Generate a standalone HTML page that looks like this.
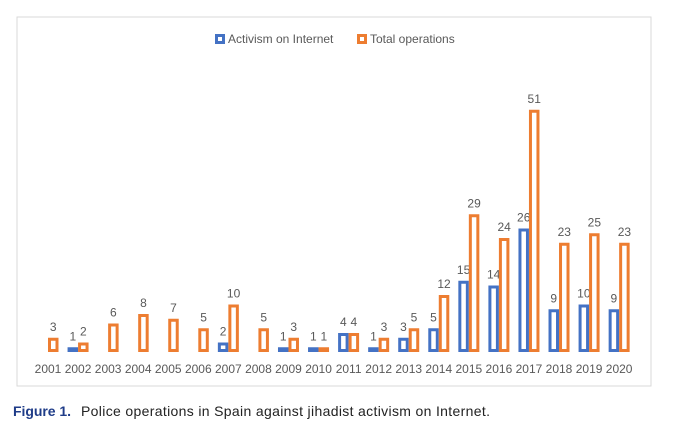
<!DOCTYPE html>
<html><head><meta charset="utf-8"><style>
body{margin:0;background:#fff;width:681px;height:439px;overflow:hidden;font-family:"Liberation Sans",sans-serif;}
</style></head><body>
<svg width="681" height="439">
<rect x="17" y="17" width="634" height="369" fill="#fff" stroke="#d9d9d9" stroke-width="1"/>
<g>
<rect x="216.5" y="35.5" width="7" height="7" fill="#fff" stroke="#4472c4" stroke-width="3"/>
<text x="228" y="43" font-size="12" fill="#595959">Activism on Internet</text>
<rect x="358.5" y="35.5" width="7" height="7" fill="#fff" stroke="#ed7d31" stroke-width="3"/>
<text x="370" y="43" font-size="12" fill="#595959">Total operations</text>
</g>
<g id="bars"></g>
<text x="13" y="416" font-size="14" fill="#1f3c88" font-weight="bold" textLength="58" lengthAdjust="spacing">Figure 1.</text>
<text x="81" y="416" font-size="14" fill="#222" textLength="409" lengthAdjust="spacing">Police operations in Spain against jihadist activism on Internet.</text>
</svg>
<script>
const years=[2001,2002,2003,2004,2005,2006,2007,2008,2009,2010,2011,2012,2013,2014,2015,2016,2017,2018,2019,2020];
const activism=[null,1,null,null,null,null,2,null,1,1,4,1,3,5,15,14,26,9,10,9];
const total=[3,2,6,8,7,5,10,5,3,1,4,3,5,12,29,24,51,23,25,23];
const x0=48,step=30.06,base=352,scale=4.75,bw=10.5;
const xs=i=>x0+i*step, ys=v=>base-v*scale;
const g=document.getElementById('bars');
const NS='http://www.w3.org/2000/svg';
function bar(i,v,off,color,name){
  const r=document.createElementNS(NS,'rect');
  const h=Math.max(v*scale,3);
  r.setAttribute('x',xs(i)+off+1.5);r.setAttribute('y',base-h+1.5);
  r.setAttribute('width',bw-3);r.setAttribute('height',Math.max(h-3,0.5));
  r.setAttribute('fill','#fff');r.setAttribute('stroke',color);r.setAttribute('stroke-width',3);
  
  
  g.appendChild(r);
  const t=document.createElementNS(NS,'text');
  t.setAttribute('x',xs(i)+off+bw/2);t.setAttribute('y',ys(v)-7);
  t.setAttribute('text-anchor','middle');t.setAttribute('font-size','12');t.setAttribute('fill','#595959');
  t.textContent=v;
  
  
  g.appendChild(t);
}
years.forEach((y,i)=>{
  if(activism[i]!=null) bar(i,activism[i],-bw,'#4472c4','bar-activism-'+y);
  bar(i,total[i],0,'#ed7d31','bar-total-'+y);
  const t=document.createElementNS(NS,'text');
  t.setAttribute('x',xs(i));t.setAttribute('y',373);
  t.setAttribute('text-anchor','middle');t.setAttribute('font-size','12');t.setAttribute('fill','#595959');
  t.textContent=y;
  
  
  g.appendChild(t);
});
</script>
</body></html>
